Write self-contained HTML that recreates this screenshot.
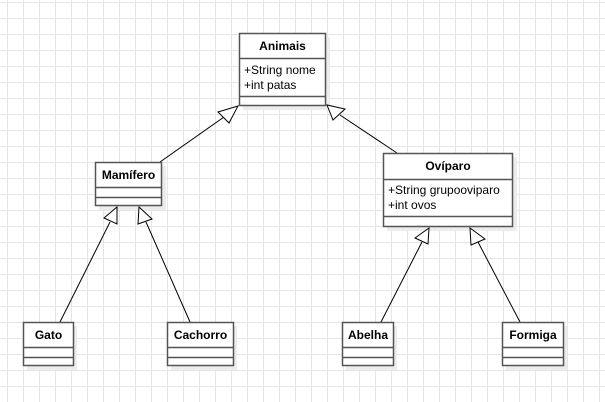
<!DOCTYPE html>
<html><head><meta charset="utf-8"><style>
html,body{margin:0;padding:0;background:#fff;}
svg{display:block;}
text{font-family:"Liberation Sans",Arial,sans-serif;font-size:12px;fill:#000;}
.b{font-weight:bold;}
</style></head><body>
<svg width="605" height="402" viewBox="0 0 605 402" xmlns="http://www.w3.org/2000/svg">
<defs>
<pattern id="g" x="7" y="2" width="16" height="16" patternUnits="userSpaceOnUse">
<path d="M0 0.5H16M0.5 0V16" stroke="#e6e6e6" stroke-width="1" fill="none"/>
</pattern>
</defs>
<rect width="605" height="402" fill="url(#g)"/>
<g fill="#ececec">
<rect x="243" y="37" width="87" height="73"/>
<rect x="99" y="166" width="67" height="44"/>
<rect x="387" y="157" width="130" height="74"/>
<rect x="27" y="326" width="50" height="44"/>
<rect x="171" y="326" width="66" height="44"/>
<rect x="346" y="326" width="51" height="44"/>
<rect x="506" y="326" width="61" height="44"/>
</g>
<g stroke="#000" stroke-width="1" fill="none">
<line x1="160" y1="162" x2="224" y2="117"/>
<line x1="397" y1="153" x2="340" y2="115"/>
<line x1="60" y1="322" x2="110" y2="222"/>
<line x1="190" y1="322" x2="146" y2="222"/>
<line x1="381" y1="322" x2="422" y2="242"/>
<line x1="520" y1="322" x2="478" y2="242"/>
</g>
<g stroke="#000" stroke-width="1" fill="#fff">
<polygon points="238,106 218,112 229,123"/>
<polygon points="327,105 333,120 345,109"/>
<polygon points="117,207 104,218 117,224"/>
<polygon points="139,207 138,224 152,219"/>
<polygon points="429,228 415,238 428,244"/>
<polygon points="470,228 471,245 485,239"/>
</g>
<g fill="#fff" stroke="#555" stroke-width="1.5">
<rect x="239.5" y="33.5" width="86" height="72"/>
<rect x="95.5" y="162.5" width="66" height="43"/>
<rect x="383.5" y="153.5" width="129" height="73"/>
<rect x="23.5" y="322.5" width="50" height="43"/>
<rect x="167.5" y="322.5" width="66" height="43"/>
<rect x="342.5" y="322.5" width="51" height="43"/>
<rect x="502.5" y="322.5" width="61" height="43"/>
</g>
<g stroke="#555" stroke-width="1.5">
<line x1="239" y1="58.5" x2="326" y2="58.5"/><line x1="239" y1="96.5" x2="326" y2="96.5"/>
<line x1="95" y1="187.5" x2="162" y2="187.5"/><line x1="95" y1="197.5" x2="162" y2="197.5"/>
<line x1="383" y1="179.5" x2="513" y2="179.5"/><line x1="383" y1="216.5" x2="513" y2="216.5"/>
<line x1="23" y1="347.5" x2="74" y2="347.5"/><line x1="23" y1="357.5" x2="74" y2="357.5"/>
<line x1="167" y1="347.5" x2="234" y2="347.5"/><line x1="167" y1="357.5" x2="234" y2="357.5"/>
<line x1="342" y1="347.5" x2="394" y2="347.5"/><line x1="342" y1="357.5" x2="394" y2="357.5"/>
<line x1="502" y1="347.5" x2="564" y2="347.5"/><line x1="502" y1="357.5" x2="564" y2="357.5"/>
</g>
<text class="b" x="282.5" y="50" text-anchor="middle">Animais</text>
<text x="244" y="74">+String nome</text>
<text x="244" y="89">+int patas</text>
<text class="b" x="128.5" y="179" text-anchor="middle">Mamífero</text>
<text class="b" x="448" y="170" text-anchor="middle">Ovíparo</text>
<text x="388" y="194">+String grupooviparo</text>
<text x="388" y="209">+int ovos</text>
<text class="b" x="48.5" y="339" text-anchor="middle">Gato</text>
<text class="b" x="200.5" y="339" text-anchor="middle">Cachorro</text>
<text class="b" x="368" y="339" text-anchor="middle">Abelha</text>
<text class="b" x="533" y="339" text-anchor="middle">Formiga</text>
</svg>
</body></html>
